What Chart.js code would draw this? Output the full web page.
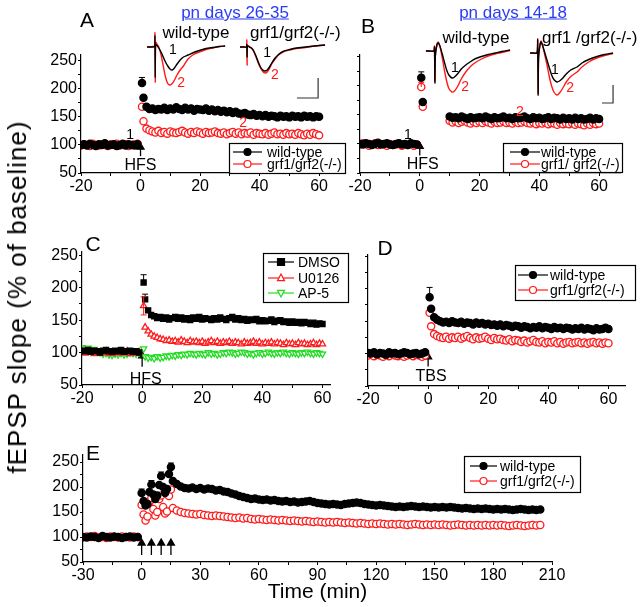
<!DOCTYPE html>
<html>
<head>
<meta charset="utf-8">
<script src="https://cdn.jsdelivr.net/npm/chart.js@4.4.1/dist/chart.umd.min.js"></script>
<style>
body { margin: 0; background: #fff; }
#fig { position: relative; width: 640px; height: 607px; overflow: hidden; font-family: "Liberation Sans", Arial, sans-serif; }
#fig canvas { position: absolute; }
.t { position: absolute; white-space: nowrap; line-height: 1; color: #000; transform: translate(-50%, -50%); }
.l { position: absolute; white-space: nowrap; line-height: 1; color: #000; transform: translate(0, -50%); }
.pn { color: #2a3cf0; text-decoration: underline; font-size: 17px; }
</style>
</head>
<body>
<div id="fig">
  <canvas id="cA" width="350" height="205" style="left:0;top:0"></canvas>
  <canvas id="cB" width="290" height="205" style="left:340px;top:0"></canvas>
  <canvas id="cC" width="350" height="180" style="left:0;top:240px"></canvas>
  <canvas id="cD" width="300" height="180" style="left:340px;top:240px"></canvas>
  <canvas id="cE" width="640" height="165" style="left:0;top:440px"></canvas>
  <canvas id="iA1" width="90" height="73" style="left:143px;top:27px"></canvas>
  <canvas id="iA2" width="90" height="73" style="left:238px;top:27px"></canvas>
  <canvas id="iB1" width="90" height="73" style="left:423px;top:31px"></canvas>
  <canvas id="iB2" width="90" height="73" style="left:528px;top:33px"></canvas>

  <div class="t" style="left:87px;top:19px;font-size:21px">A</div>
  <div class="t" style="left:368px;top:25px;font-size:21px">B</div>
  <div class="t" style="left:93px;top:243px;font-size:21px">C</div>
  <div class="t" style="left:385px;top:247px;font-size:21px">D</div>
  <div class="t" style="left:93px;top:452px;font-size:21px">E</div>
  <div class="t pn" style="left:235px;top:12px">pn days 26-35</div>
  <div class="t pn" style="left:513px;top:12px">pn days 14-18</div>
  <div class="t" style="left:196px;top:32px;font-size:17px">wild-type</div>
  <div class="l" style="left:250px;top:32px;font-size:17px">grf1/grf2(-/-)</div>
  <div class="t" style="left:476px;top:37px;font-size:17px">wild-type</div>
  <div class="l" style="left:542px;top:37px;font-size:17px">grf1 /grf2(-/-)</div>
  <div class="t" style="left:17px;top:297px;font-size:26px;letter-spacing:1px;transform:translate(-50%,-50%) rotate(-90deg)">fEPSP slope (% of baseline)</div>
</div>

<script>
// ---- time axes (min) ----
var base20 = [-20,-19,-18,-17,-16,-15,-14,-13,-12,-11,-10,-9,-8,-7,-6,-5,-4,-3,-2,-1];
var post61 = [0.5,1,2,3,4,5,6,7,8,9,10,11,12,13,14,15,16,17,18,19,20,21,22,23,24,25,26,27,28,29,30,
  31,32,33,34,35,36,37,38,39,40,41,42,43,44,45,46,47,48,49,50,51,52,53,54,55,56,57,58,59,60];
var postB = [0.5,1,10,11,12,13,14,15,16,17,18,19,20,21,22,23,24,25,26,27,28,29,30,
  31,32,33,34,35,36,37,38,39,40,41,42,43,44,45,46,47,48,49,50,51,52,53,54,55,56,57,58,59,60];
var baseE = [-30,-28,-26,-24,-22,-20,-18,-16,-14,-12,-10,-8,-6,-4,-2];
var tetE = [0,1,2,3,4,5,6,7,8,9,10,11,12,13,14,15,16];
var lateE = [18,20,22,24,26,28,30,32,34,36,38,40,42,44,46,48,50,52,54,56,58,60,62,64,66,68,70,72,74,76,
  78,80,82,84,86,88,90,92,94,96,98,100,102,104,106,108,110,112,114,116,118,120,122,124,126,128,130,132,134,136,
  138,140,142,144,146,148,150,152,154,156,158,160,162,164,166,168,170,172,174,176,178,180,182,184,186,188,190,192,194,196,
  198,200,202,204];
var tA = base20.concat(post61);
var tB = base20.concat(postB);
var tE = baseE.concat(tetE, lateE);

// ---- panel A (pn 26-35, HFS) ----
var aWild = [100,101,99,102,100,98,101,100,103,99,100,101,98,100,102,99,101,100,99,101,
  210,184,168,164,165,162,164,163,166,162,
  165,163,167,164,162,166,163,165,161,164,
  163,162,165,161,163,160,162,159,161,158,
  160,157,159,156,155,157,154,153,155,152,
  153,151,153,150,152,151,149,152,150,151,
  149,152,150,151,149,152,150,151,149,151,
  150];
var aGrf = [99,101,100,98,102,100,99,101,100,98,101,100,102,99,100,101,98,100,101,102,
  168,142,129,126,124,122,125,121,123,120,
  124,122,121,123,125,122,120,123,121,124,
  122,120,123,121,122,124,121,120,122,119,
  121,123,120,122,119,121,120,122,118,121,
  120,119,121,118,120,122,119,120,118,121,
  119,120,118,121,119,117,120,118,121,119,
  117];

// ---- panel B (pn 14-18, HFS) ----
var bWild = [100,99,101,100,98,100,102,99,100,101,99,98,100,101,99,100,98,101,100,99,
  214,172,
  147,145,146,144,147,145,143,146,144,145,
  146,144,147,145,143,146,144,145,147,144,
  145,143,146,144,145,147,144,143,146,144,
  145,143,144,146,143,145,144,142,145,143,
  144,142,145,143,144,142,143,145,142,144,
  143];
var bGrf = [99,101,100,97,99,101,98,100,99,97,100,98,99,101,97,99,98,100,97,99,
  198,164,
  140,137,139,136,138,140,137,135,138,136,
  138,136,139,137,135,138,136,137,139,136,
  137,135,138,136,137,139,136,135,137,134,
  136,135,137,134,136,135,133,136,134,135,
  134,136,133,135,134,132,135,133,136,134,
  135];

// ---- panel C (drugs, HFS) ----
var cDmso = [103,102,104,101,103,102,100,103,104,102,101,103,102,104,101,102,103,101,102,100,
  208,182,165,158,156,153,155,152,154,151,
  153,155,152,154,151,153,150,154,152,155,
  151,153,152,150,153,151,154,152,150,153,
  155,151,153,150,152,149,151,150,152,148,
  150,148,149,151,147,149,150,147,148,146,
  148,146,147,145,147,146,144,146,143,145,
  144];
var cU0126 = [101,99,102,100,98,101,99,100,102,99,98,100,101,99,100,102,98,100,99,101,
  172,139,133,128,125,123,121,120,118,119,
  117,118,116,119,117,115,118,116,117,115,
  117,114,116,118,115,117,114,116,115,117,
  114,116,115,113,116,114,115,117,114,116,
  113,115,114,116,113,115,114,112,115,113,
  114,112,115,113,114,112,113,115,112,114,
  113];
var cAp5 = [108,106,107,104,105,102,100,98,99,97,96,98,97,99,97,98,100,99,98,100,
  106,94,92,93,91,94,92,93,95,94,
  96,95,97,96,98,97,99,98,97,99,
  98,97,100,98,99,97,98,100,99,101,
  100,98,99,101,100,98,99,97,99,100,
  98,99,101,99,98,100,99,101,99,98,
  100,99,98,100,99,101,99,98,100,99,
  98];

// ---- panel D (TBS) ----
var dWild = [101,100,102,99,101,100,98,102,100,101,99,100,102,101,99,100,101,99,100,102,
  187,169,156,152,150,148,149,147,150,148,
  147,149,146,148,147,145,148,146,147,145,
  146,144,145,143,145,142,144,143,141,143,
  142,140,142,141,139,141,140,142,139,141,
  140,138,141,139,140,138,140,139,137,139,
  138,140,137,139,138,136,139,137,138,140,
  138];
var dGrf = [97,99,96,98,97,95,98,96,99,97,96,98,95,97,99,96,98,97,95,97,
  163,142,130,127,125,124,126,123,125,124,
  126,123,125,127,124,122,125,123,124,126,
  123,121,124,122,123,121,120,122,119,121,
  120,118,120,117,119,121,118,117,119,116,
  118,117,119,116,118,115,117,118,116,117,
  118,116,117,115,117,118,116,117,115,117,
  116];

// ---- panel E (4 x HFS, long) ----
var eWild = [100,99,101,100,98,102,100,99,101,100,98,100,101,99,100,
  188,172,163,166,190,205,185,176,183,204,222,200,188,196,226,240,212,
  206,201,198,197,199,196,198,195,197,196,
  193,194,191,190,187,185,182,180,178,176,
  177,175,174,175,173,174,172,171,172,170,
  171,169,170,171,172,170,168,167,166,165,
  166,165,164,166,167,168,169,168,166,165,
  164,163,164,163,162,161,160,161,160,161,
  162,161,160,161,160,159,160,159,160,159,
  160,159,158,157,158,157,156,157,156,157,
  156,155,156,155,156,155,154,155,156,155,
  154,155,154,155];
var eGrf = [99,101,100,102,99,100,98,101,100,99,101,100,99,101,100,
  164,145,133,141,170,178,156,143,150,176,183,160,147,151,182,195,158,
  153,150,148,147,146,145,146,144,143,142,
  143,142,141,140,139,138,139,137,138,136,
  135,136,135,134,135,134,133,134,133,132,
  133,132,131,132,131,130,131,130,129,130,
  129,130,129,128,129,128,127,128,127,126,
  127,126,127,126,125,126,125,126,125,124,
  125,126,125,124,125,124,125,124,125,124,
  123,124,125,124,123,124,123,124,123,124,
  123,124,123,124,123,122,123,124,123,122,
  123,124,123,124];
var eStim = [0, 5, 10, 15];

// ---- error bars [time, sem, two-sided] ----
var errAWild = [[0.5, 10]];
var errBWild = [[0.5, 10]];
var errBGrf = [[0.5, 8]];
var errCDmso = [[0.5, 12], [1, 8]];
var errCU0126 = [[0.5, 14, true]];
var errDWild = [[0.5, 15]];
var errEWild = [[0, 8], [5, 8], [10, 8], [15, 8]];

// ---- inset traces (ms, mV) ----
var trA1t = [1.8,3,4.5,5.2,5.3,5.45,5.6,6.2,7,8,9,10,11,12,13,14,15,16.5,18,20,22.5,25,28,31,34,36.5];
var trA1w = [0,0,0,0.02,0.22,-0.6,0.05,0.03,-0.02,-0.1,-0.2,-0.3,-0.38,-0.44,-0.46,-0.42,-0.35,-0.26,-0.2,-0.16,-0.11,-0.07,-0.03,-0.01,0.01,0.02];
var trA1g = [0,0,0.01,0.02,0.28,-0.7,0.1,0.06,0,-0.15,-0.38,-0.6,-0.73,-0.76,-0.73,-0.66,-0.57,-0.46,-0.38,-0.24,-0.15,-0.1,-0.05,-0.02,0.01,0.02];
var trA2t = [0.9,2.5,3.8,3.9,4.05,4.2,5,6,7,8,9,10,11,12,13,14,15,16.5,18,20,23,26,30,34,38.7];
var trA2w = [0,0,0,0.05,-0.2,0.02,0,-0.02,-0.08,-0.18,-0.3,-0.4,-0.46,-0.48,-0.46,-0.4,-0.32,-0.22,-0.15,-0.09,-0.05,-0.02,0,0.02,0.04];
var trA2g = [0,0,0,0.14,-0.36,0.03,0.01,-0.02,-0.09,-0.2,-0.32,-0.42,-0.49,-0.52,-0.5,-0.43,-0.34,-0.24,-0.16,-0.1,-0.06,-0.03,-0.01,0.02,0.04];
var trB1t = [1.3,3,4.8,5.1,5.3,5.5,6.2,6.8,7.5,8.5,9.5,10.5,11.5,12.9,14,15.5,17,19,20.9,23,26,29,32,35,38.7];
var trB1w = [0,0,0,0.08,-0.64,-0.1,0.12,0.16,0.1,-0.05,-0.22,-0.38,-0.48,-0.54,-0.52,-0.45,-0.36,-0.28,-0.22,-0.16,-0.11,-0.07,-0.04,-0.01,0.02];
var trB1g = [0,0,0,0.1,-0.6,-0.08,0.14,0.18,0.1,-0.12,-0.38,-0.6,-0.75,-0.82,-0.8,-0.7,-0.56,-0.42,-0.32,-0.24,-0.16,-0.1,-0.06,-0.03,0.01];
var trB2t = [0.9,2.5,4.0,4.3,4.5,4.7,5.3,5.8,6.5,7.5,8.5,9.5,10.5,11.5,12.9,14,15.5,17,19,21.8,24,27,30,34,37.8];
var trB2w = [0,0,0,0.26,-0.84,-0.1,0.15,0.22,0.15,0,-0.15,-0.3,-0.44,-0.53,-0.58,-0.56,-0.5,-0.42,-0.34,-0.28,-0.2,-0.13,-0.08,-0.03,0];
var trB2g = [0,0,0,0.28,-0.8,-0.08,0.16,0.24,0.15,-0.05,-0.25,-0.48,-0.66,-0.78,-0.84,-0.8,-0.7,-0.58,-0.47,-0.38,-0.28,-0.18,-0.11,-0.05,-0.01];
var barA = [[26.2, -1.02], [35.6, -1.02], [35.6, -0.62]];
var barB = [[32.9, -1.0], [37.8, -1.0], [37.8, -0.64]];

var F = '"Liberation Sans", Arial, sans-serif';
var RED = '#ff1a1a', GREEN = '#22dd22';

function mark(ctx, style, x, y, r, stroke, fill, rot) {
  ctx.save();
  ctx.translate(x, y);
  if (rot) ctx.rotate(rot * Math.PI / 180);
  ctx.beginPath();
  if (style === 'circle') ctx.arc(0, 0, r, 0, Math.PI * 2);
  else if (style === 'rect') ctx.rect(-r, -r, 2 * r, 2 * r);
  else { ctx.moveTo(0, -r * 1.15); ctx.lineTo(r, r * 0.75); ctx.lineTo(-r, r * 0.75); ctx.closePath(); }
  ctx.fillStyle = fill; ctx.fill();
  ctx.lineWidth = 1.2; ctx.strokeStyle = stroke; ctx.stroke();
  ctx.restore();
}

// error bars, text notes and the boxed legend
var extras = {
  id: 'extras',
  afterDatasetsDraw: function (chart, args, o) {
    var ctx = chart.ctx, xs = chart.scales.x, ys = chart.scales.y;
    chart.data.datasets.forEach(function (ds) {
      if (!ds.errBars) return;
      ds.errBars.forEach(function (eb) {
        var p = ds.data.find(function (d) { return d.x === eb[0]; });
        if (!p) return;
        var px = xs.getPixelForValue(eb[0]);
        var y0 = ys.getPixelForValue(eb[2] ? p.y - eb[1] : p.y), y1 = ys.getPixelForValue(p.y + eb[1]);
        ctx.save();
        ctx.strokeStyle = ds.borderColor; ctx.lineWidth = 1;
        ctx.beginPath();
        ctx.moveTo(px, y0); ctx.lineTo(px, y1);
        ctx.moveTo(px - 3, y1); ctx.lineTo(px + 3, y1);
        if (eb[2]) { ctx.moveTo(px - 3, y0); ctx.lineTo(px + 3, y0); }
        ctx.stroke();
        ctx.restore();
      });
    });
    (o.notes || []).forEach(function (n) {
      ctx.save();
      ctx.font = (n.size || 14) + 'px ' + F;
      ctx.fillStyle = n.color || '#000';
      ctx.textAlign = 'center'; ctx.textBaseline = 'middle';
      ctx.fillText(n.text, xs.getPixelForValue(n.x), ys.getPixelForValue(n.y));
      ctx.restore();
    });
    var lg = o.box;
    if (lg) {
      ctx.save();
      ctx.fillStyle = '#fff';
      ctx.fillRect(lg.box[0], lg.box[1], lg.box[2], lg.box[3]);
      ctx.strokeStyle = '#000'; ctx.lineWidth = 1.2;
      ctx.strokeRect(lg.box[0] + 0.5, lg.box[1] + 0.5, lg.box[2], lg.box[3]);
      ctx.font = lg.size + 'px ' + F;
      ctx.textBaseline = 'middle'; ctx.textAlign = 'left';
      lg.rows.forEach(function (r) {
        ctx.strokeStyle = r.color; ctx.lineWidth = 1.2;
        ctx.beginPath(); ctx.moveTo(lg.lineX[0], r.y); ctx.lineTo(lg.lineX[1], r.y); ctx.stroke();
        mark(ctx, r.style, (lg.lineX[0] + lg.lineX[1]) / 2, r.y, 3.5, r.color, r.fill ? r.color : '#fff', r.rot);
        ctx.fillStyle = '#000';
        ctx.fillText(r.label, lg.textX, r.y + 1);
      });
      ctx.restore();
    }
  }
};

function series(t, v, color, style, filled, errs, rot) {
  return {
    data: t.map(function (x, i) { return { x: x, y: v[i] }; }),
    showLine: false, borderColor: color, borderWidth: 1,
    pointStyle: style, pointRadius: 3.6, pointBorderWidth: 1.3, pointRotation: rot || 0,
    pointBackgroundColor: filled ? color : '#fff', pointBorderColor: color,
    errBars: errs || null
  };
}
function arrow(x, lo, hi) {
  return {
    data: [{ x: x, y: lo }, { x: x, y: hi }],
    showLine: true, borderColor: '#000', borderWidth: 1.3,
    pointStyle: 'triangle', pointRadius: [0, 4], pointBackgroundColor: '#000', pointBorderColor: '#000'
  };
}
function axis(min, max, step, every, fit, showLabels, title) {
  var ax = {
    type: 'linear', min: min, max: max,
    border: { display: true, color: '#000', width: 1.2 },
    grid: { display: true, drawOnChartArea: false, drawTicks: true, tickLength: 3, color: '#000', lineWidth: 1 },
    ticks: {
      stepSize: step, includeBounds: false, autoSkip: false, maxRotation: 0, padding: 1,
      color: '#000', font: { family: F, size: 16 },
      callback: function (v) { return showLabels && v % every === 0 ? String(v) : ''; }
    },
    afterFit: fit
  };
  if (title) ax.title = { display: true, text: title, color: '#000', font: { family: F, size: 21 }, padding: 0 };
  return ax;
}
function panel(id, datasets, xa, ya, pad, extra) {
  return new Chart(document.getElementById(id), {
    type: 'scatter',
    data: { datasets: datasets },
    options: {
      responsive: false, animation: false,
      layout: { padding: pad },
      plugins: { legend: { display: false }, tooltip: { enabled: false }, extras: extra },
      scales: { x: xa, y: ya }
    },
    plugins: [extras]
  });
}
function wid(w) { return function (s) { s.width = w; }; }
function hei(h) { return function (s) { s.height = h; }; }
function wtRow(y) { return { y: y, label: 'wild-type', color: '#000', style: 'circle', fill: true }; }
function grfRow(y, label) { return { y: y, label: label, color: RED, style: 'circle', fill: false }; }

// A
panel('cA',
  [series(tA, aWild, '#000', 'circle', true, errAWild), series(tA, aGrf, RED, 'circle', false), arrow(0, 80, 96)],
  axis(-20, 64, 10, 20, hei(32), true), axis(50, 260, 25, 50, wid(81), true),
  { top: 55, right: 19, left: 0, bottom: 0 },
  { notes: [{ x: -3.5, y: 118, text: '1' }, { x: 34.5, y: 139, text: '2', color: RED }, { x: 0, y: 64, text: 'HFS', size: 16 }],
    box: { box: [229, 143, 116, 30], lineX: [233, 262], textX: 267, size: 14, rows: [wtRow(152), grfRow(164, 'grf1/grf2(-/-)')] } });

// B
panel('cB',
  [series(tB, bWild, '#000', 'circle', true, errBWild), series(tB, bGrf, RED, 'circle', false, errBGrf), arrow(0, 80, 96)],
  axis(-20, 67, 10, 20, hei(32), true), axis(50, 253, 25, 50, wid(20), false),
  { top: 55, right: 10, left: 0, bottom: 0 },
  { notes: [{ x: -4, y: 115, text: '1' }, { x: 33.5, y: 155, text: '2', color: RED }, { x: 1, y: 64, text: 'HFS', size: 16 }],
    box: { box: [163, 143, 119, 29], lineX: [170, 200], textX: 201, size: 14, rows: [wtRow(152), grfRow(164, 'grf1/ grf2(-/-)')] } });

// C
panel('cC',
  [series(tA, cDmso, '#000', 'rect', true, errCDmso), series(tA, cU0126, RED, 'triangle', false, errCU0126),
   series(tA, cAp5, GREEN, 'triangle', false, null, 180), arrow(0, 78, 95)],
  axis(-20, 62.5, 10, 20, hei(35), true), axis(50, 255, 25, 50, wid(82), true),
  { top: 12, right: 20, left: 0, bottom: 0 },
  { notes: [{ x: 1.2, y: 58, text: 'HFS', size: 16 }],
    box: { box: [263, 13, 85, 49], lineX: [268, 294], textX: 298, size: 14, rows: [
      { y: 22, label: 'DMSO', color: '#000', style: 'rect', fill: true },
      { y: 38, label: 'U0126', color: RED, style: 'triangle', fill: false },
      { y: 53, label: 'AP-5', color: GREEN, style: 'triangle', fill: false, rot: 180 }] } });

// D
panel('cD',
  [series(tA, dWild, '#000', 'circle', true, errDWild), series(tA, dGrf, RED, 'circle', false), arrow(0, 80, 95)],
  axis(-20, 65.5, 10, 20, hei(34), true), axis(50, 252, 25, 50, wid(28), false),
  { top: 15, right: 15, left: 0, bottom: 0 },
  { notes: [{ x: 1, y: 64, text: 'TBS', size: 16 }],
    box: { box: [175, 25, 120, 35], lineX: [178, 208], textX: 210, size: 14, rows: [wtRow(35), grfRow(50, 'grf1/grf2(-/-)')] } });

// E
panel('cE',
  [series(tE, eWild, '#000', 'circle', true, errEWild), series(tE, eGrf, RED, 'circle', false)]
    .concat(eStim.map(function (s) { return arrow(s, 64, 88); })),
  axis(-30, 210, 15, 30, hei(43), true, 'Time (min)'), axis(50, 264, 25, 50, wid(83), true),
  { top: 15, right: 88, left: 0, bottom: 0 },
  { box: { box: [464, 16, 116, 36], lineX: [470, 497], textX: 500, size: 14, rows: [wtRow(26), grfRow(41, 'grf1/grf2(-/-)')] } });

// insets with sample EPSPs (1 = before, 2 = after)
function trace(t, v, color) {
  return { data: t.map(function (x, i) { return { x: x, y: v[i] }; }), showLine: true, borderColor: color,
    borderWidth: 1.4, pointRadius: 0, tension: 0.25 };
}
function bar(b) {
  return { data: b.map(function (p) { return { x: p[0], y: p[1] }; }), showLine: true, borderColor: '#333',
    borderWidth: 1.2, pointRadius: 0, tension: 0 };
}
function inset(id, t, w, g, sb, notes) {
  var ds = [trace(t, w, '#000'), trace(t, g, RED)];
  if (sb) ds.push(bar(sb));
  return new Chart(document.getElementById(id), {
    type: 'scatter',
    data: { datasets: ds },
    options: {
      responsive: false, animation: false, layout: { padding: 0 },
      plugins: { legend: { display: false }, tooltip: { enabled: false }, extras: { notes: notes } },
      scales: { x: { type: 'linear', display: false, min: 0, max: 40 }, y: { type: 'linear', display: false, min: -1.06, max: 0.4 } }
    },
    plugins: [extras]
  });
}
inset('iA1', trA1t, trA1w, trA1g, null, [{ x: 13.3, y: -0.06, text: '1' }, { x: 17, y: -0.72, text: '2', color: RED }]);
inset('iA2', trA2t, trA2w, trA2g, barA, [{ x: 12.9, y: -0.12, text: '1' }, { x: 16.4, y: -0.56, text: '2', color: RED }]);
inset('iB1', trB1t, trB1w, trB1g, null, [{ x: 14.2, y: -0.34, text: '1' }, { x: 18.7, y: -0.72, text: '2', color: RED }]);
inset('iB2', trB2t, trB2w, trB2g, barB, [{ x: 12, y: -0.34, text: '1' }, { x: 18.7, y: -0.7, text: '2', color: RED }]);
</script>
</body>
</html>
